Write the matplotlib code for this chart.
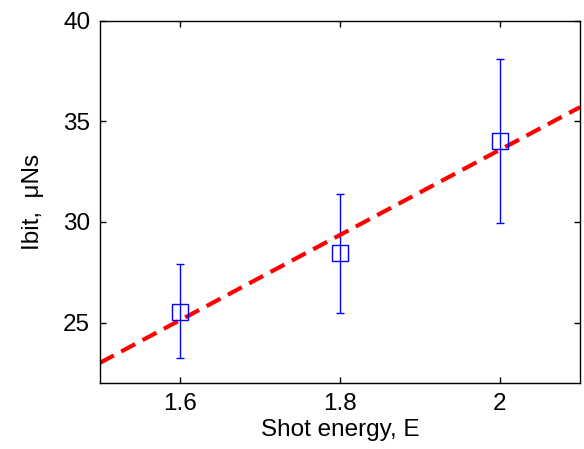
import numpy as np
import matplotlib
matplotlib.use("Agg")
import matplotlib.pyplot as plt

plt.rcParams["font.family"] = ["Liberation Sans", "DejaVu Sans"]

# Measured points with error bars
energy = [1.6, 1.8, 2.0]
ibit = [25.55, 28.45, 34.0]
err_low = [23.25, 25.5, 29.95]
err_high = [27.9, 31.4, 38.1]

# Linear fit line (endpoints)
fit_x = [1.5, 2.1]
fit_y = [23.0, 35.7]

ibit = np.array(ibit)
yerr = [ibit - np.array(err_low), np.array(err_high) - ibit]

fig = plt.figure(figsize=(5.84, 4.49), dpi=100)
ax = fig.add_axes([0.171, 0.147, 0.822, 0.807])

ax.errorbar(energy, ibit, yerr=yerr, fmt="s", color="blue", ecolor="blue",
            mfc="none", mec="blue", ms=11, mew=1, elinewidth=1,
            capsize=3, capthick=1.2)
ax.plot(fit_x, fit_y, "--", color="red", lw=3, dashes=(3.8, 2))

ax.set_xlim(1.5, 2.1)
ax.set_ylim(22, 40)
ax.set_xticks([1.6, 1.8, 2.0])
ax.set_xticklabels(["1.6", "1.8", "2"])
ax.set_yticks([25, 30, 35, 40])

ax.tick_params(direction="in", length=4, width=1, labelsize=17.5,
               top=True, right=True, pad=7)
for s in ax.spines.values():
    s.set_linewidth(1)

ax.set_xlabel("Shot energy, E", fontsize=17.5, labelpad=3)
ax.set_ylabel("Ibit,  μNs", fontsize=17.5, labelpad=14)

fig.savefig("out.png", dpi=100)
